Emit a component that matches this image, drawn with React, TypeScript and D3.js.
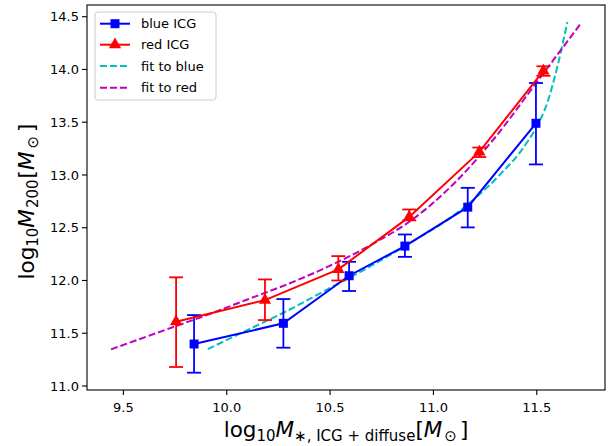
import React from "react";
import * as d3 from "d3";

const blueX = [9.842, 10.274, 10.592, 10.862, 11.166, 11.496];
const blueY = [11.398, 11.594, 12.045, 12.326, 12.695, 13.49];
const blueLo = [11.126, 11.363, 11.9, 12.224, 12.503, 13.1];
const blueHi = [11.672, 11.824, 12.177, 12.436, 12.878, 13.872];

const redX = [9.755, 10.185, 10.54, 10.883, 11.222, 11.532];
const redY = [11.609, 11.814, 12.105, 12.603, 13.219, 13.986];
const redLo = [11.18, 11.625, 12.0, 12.57, 13.17, 13.94];
const redHi = [12.03, 12.01, 12.231, 12.673, 13.26, 14.03];

const fitBlueX = [9.908, 10.1, 10.3, 10.5, 10.7, 10.9, 11.1, 11.3, 11.45, 11.5, 11.55, 11.6, 11.648];
const fitBlueY = [11.35, 11.53, 11.72, 11.93, 12.14, 12.37, 12.62, 12.96, 13.3, 13.46, 13.68, 14.03, 14.45];

const fitRedX = [9.44, 9.7, 9.9, 10.1, 10.3, 10.5, 10.7, 10.9, 11.1, 11.3, 11.5, 11.716];
const fitRedY = [11.347, 11.53, 11.67, 11.82, 11.97, 12.14, 12.34, 12.58, 12.92, 13.36, 13.88, 14.444];

const xTicks = [9.5, 10.0, 10.5, 11.0, 11.5];
const yTicks = [11.0, 11.5, 12.0, 12.5, 13.0, 13.5, 14.0, 14.5];

const legendLabels = ["blue ICG", "red ICG", "fit to blue", "fit to red"];

const W = 615;
const H = 446;
const L = 87, R = 605, T = 5, B = 390;
const FONT = "'DejaVu Sans', sans-serif";
const BLUE = "#0000ff";
const RED = "#ff0000";
const CYAN = "#00bfbf";
const MAG = "#bf00bf";
const LF = 21.5;
const SF = 15;

export default function App() {
  const x = d3.scaleLinear().domain([9.324, 11.83]).range([L, R]);
  const y = d3.scaleLinear().domain([10.962, 14.611]).range([B, T]);
  const line = d3
    .line<[number, number]>()
    .x((d) => x(d[0]))
    .y((d) => y(d[1]));
  const smooth = d3
    .line<[number, number]>()
    .x((d) => x(d[0]))
    .y((d) => y(d[1]))
    .curve(d3.curveMonotoneX);

  const pairs = (a: number[], b: number[]) => a.map((v, i) => [v, b[i]] as [number, number]);

  const tri = d3.symbol().type(d3.symbolTriangle).size(66)();

  const errorBars = (xs: number[], lo: number[], hi: number[], color: string, key: string) =>
    xs.map((xv, i) => (
      <g key={key + i} stroke={color} strokeWidth={1.8} fill="none">
        <line x1={x(xv)} x2={x(xv)} y1={y(lo[i])} y2={y(hi[i])} />
        <line x1={x(xv) - 7} x2={x(xv) + 7} y1={y(lo[i])} y2={y(lo[i])} />
        <line x1={x(xv) - 7} x2={x(xv) + 7} y1={y(hi[i])} y2={y(hi[i])} />
      </g>
    ));

  const legY = [23.7, 44.7, 66, 87.7];

  return (
    <svg
      width={W}
      height={H}
      style={{ position: "absolute", left: 0, top: 0, background: "#fff" }}
      fontFamily={FONT}
    >
      <rect x={0} y={0} width={W} height={H} fill="#fff" />
      <defs>
        <clipPath id="plotclip">
          <rect x={L} y={T} width={R - L} height={B - T} />
        </clipPath>
      </defs>
      <g clipPath="url(#plotclip)">
        <path d={smooth(pairs(fitBlueX, fitBlueY)) || ""} fill="none" stroke={CYAN} strokeWidth={2} strokeDasharray="7,3" />
        <path d={smooth(pairs(fitRedX, fitRedY)) || ""} fill="none" stroke={MAG} strokeWidth={2} strokeDasharray="7,3" />
        {errorBars(blueX, blueLo, blueHi, BLUE, "be")}
        <path d={line(pairs(blueX, blueY)) || ""} fill="none" stroke={BLUE} strokeWidth={2} />
        {blueX.map((xv, i) => (
          <rect key={"bm" + i} x={x(xv) - 4.5} y={y(blueY[i]) - 4.5} width={9} height={9} fill={BLUE} />
        ))}
        {errorBars(redX, redLo, redHi, RED, "re")}
        <path d={line(pairs(redX, redY)) || ""} fill="none" stroke={RED} strokeWidth={2} />
        {redX.map((xv, i) => (
          <path key={"rm" + i} d={tri || ""} transform={`translate(${x(xv)},${y(redY[i])})`} fill={RED} />
        ))}
      </g>

      {/* axes frame */}
      <rect x={L} y={T} width={R - L} height={B - T} fill="none" stroke="#000" strokeWidth={1.1} />

      {/* x ticks */}
      {xTicks.map((t) => (
        <g key={"xt" + t}>
          <line x1={x(t)} x2={x(t)} y1={B} y2={B + 5} stroke="#000" strokeWidth={1.1} />
          <text x={x(t)} y={B + 21.5} fontSize={13} textAnchor="middle" fill="#000">
            {t.toFixed(1)}
          </text>
        </g>
      ))}
      {/* y ticks */}
      {yTicks.map((t) => (
        <g key={"yt" + t}>
          <line x1={L - 5} x2={L} y1={y(t)} y2={y(t)} stroke="#000" strokeWidth={1.1} />
          <text x={L - 8} y={y(t) + 4.7} fontSize={13} textAnchor="end" fill="#000">
            {t.toFixed(1)}
          </text>
        </g>
      ))}

      {/* x label */}
      <text x={(L + R) / 2} y={437} fontSize={LF} textAnchor="middle" fill="#000">
        <tspan>log</tspan>
        <tspan fontSize={SF} dy={4}>10</tspan>
        <tspan dy={-4} fontStyle="italic">M</tspan>
        <tspan fontSize={SF} dy={4}>∗, ICG + diffuse</tspan>
        <tspan dy={-4}>[</tspan>
        <tspan fontStyle="italic">M</tspan>
        <tspan fontSize={SF} dy={4} dx={2}>⊙</tspan>
        <tspan dy={-4} dx={3}>]</tspan>
      </text>

      {/* y label */}
      <text transform={`translate(34,${(T + B) / 2 + 4}) rotate(-90)`} fontSize={LF} textAnchor="middle" fill="#000">
        <tspan>log</tspan>
        <tspan fontSize={SF} dy={4}>10</tspan>
        <tspan dy={-4} fontStyle="italic">M</tspan>
        <tspan fontSize={SF} dy={4} dx={1}>200</tspan>
        <tspan dy={-4} dx={1}>[</tspan>
        <tspan fontStyle="italic">M</tspan>
        <tspan fontSize={SF} dy={4} dx={3}>⊙</tspan>
        <tspan dy={-4} dx={4}>]</tspan>
      </text>

      {/* legend */}
      <rect x={95} y={12} width={121} height={88} rx={3} fill="#fff" fillOpacity={0.8} stroke="#cccccc" strokeWidth={1} />
      {legendLabels.map((lab, i) => {
        const ly = legY[i];
        const colors = [BLUE, RED, CYAN, MAG];
        const dashed = i >= 2;
        return (
          <g key={"lg" + i}>
            <line x1={100} x2={130} y1={ly} y2={ly} stroke={colors[i]} strokeWidth={2} strokeDasharray={dashed ? "7,3" : undefined} />
            {i === 0 && <rect x={115 - 4.5} y={ly - 4.5} width={9} height={9} fill={BLUE} />}
            {i === 1 && <path d={tri || ""} transform={`translate(115,${ly})`} fill={RED} />}
            <text x={141} y={ly + 4.7} fontSize={13} fill="#000">
              {lab}
            </text>
          </g>
        );
      })}
    </svg>
  );
}
